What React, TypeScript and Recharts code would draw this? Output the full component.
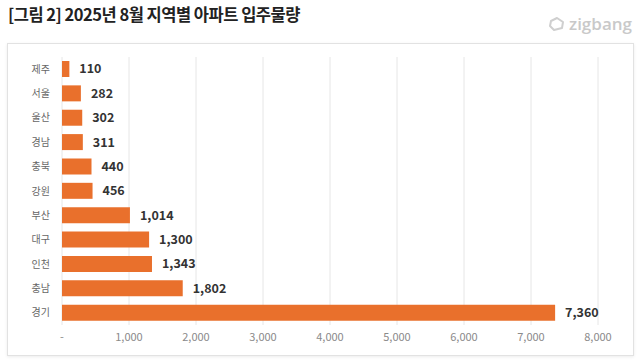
import { Bar, BarChart, CartesianGrid, LabelList, XAxis, YAxis } from "recharts";

const regions = ["제주", "서울", "울산", "경남", "충북", "강원", "부산", "대구", "인천", "충남", "경기"];
const supply = [110, 282, 302, 311, 440, 456, 1014, 1300, 1343, 1802, 7360];
const xTicks = [0, 1000, 2000, 3000, 4000, 5000, 6000, 7000, 8000];

const data = regions.map((region, i) => ({ region, supply: supply[i] }));

const font = "'Noto Sans CJK KR', 'Noto Sans', sans-serif";

export default function App() {
  return (
    <div
      style={{
        position: "fixed",
        left: 0,
        top: 0,
        width: 640,
        height: 360,
        background: "#fff",
        fontFamily: font,
        overflow: "hidden",
      }}
    >
      <div
        style={{
          position: "absolute",
          left: 8,
          top: 2,
          fontSize: 16.5,
          fontWeight: 700,
          color: "#222",
          letterSpacing: -0.5,
        }}
      >
        [그림 2] 2025년 8월 지역별 아파트 입주물량
      </div>
      <div
        style={{
          position: "absolute",
          left: 548,
          top: 12,
          display: "flex",
          alignItems: "center",
          gap: 3,
          color: "#c9c9c9",
          fontFamily: "'Open Sans', sans-serif",
          fontSize: 17,
          fontWeight: 600,
        }}
      >
        <svg width="18" height="16" viewBox="0 0 18 16">
          <path
            d="M3 5 L9 2 L15 6 L14 12 L6 14 L2 10 Z"
            fill="none"
            stroke="#cfcfcf"
            strokeWidth={2}
            strokeLinejoin="round"
          />
        </svg>
        zigbang
      </div>
      <div
        style={{
          position: "absolute",
          left: 7,
          top: 43,
          width: 625,
          height: 311,
          border: "1px solid #e2e2e2",
          boxShadow: "0 1px 3px rgba(0,0,0,0.08)",
          background: "#fff",
        }}
      />
      <div style={{ position: "absolute", left: 0, top: 0 }}>
        <BarChart
          width={640}
          height={360}
          data={data}
          layout="vertical"
          margin={{ left: 0, right: 42, top: 57, bottom: 10 }}
        >
          <CartesianGrid horizontal={false} stroke="#e6e6e6" />
          <XAxis
            type="number"
            domain={[0, 8000]}
            ticks={xTicks}
            height={25}
            axisLine={false}
            tickLine={false}
            tickSize={0}
            tickMargin={8}
            tick={{ fill: "#8a8a8a", fontSize: 11, fontFamily: font }}
            tickFormatter={(v: number) => (v === 0 ? "-" : v.toLocaleString("en-US"))}
          />
          <YAxis
            type="category"
            dataKey="region"
            width={62}
            axisLine={false}
            tickLine={false}
            tickSize={0}
            tickMargin={12}
            tick={{ fill: "#666", fontSize: 10, fontFamily: font }}
          />
          <Bar dataKey="supply" fill="#e9702c" barSize={16} isAnimationActive={false}>
            <LabelList
              dataKey="supply"
              position="right"
              offset={10}
              formatter={(v: number) => v.toLocaleString("en-US")}
              style={{ fill: "#333", fontSize: 12.5, fontWeight: 700, fontFamily: font }}
            />
          </Bar>
        </BarChart>
      </div>
    </div>
  );
}
